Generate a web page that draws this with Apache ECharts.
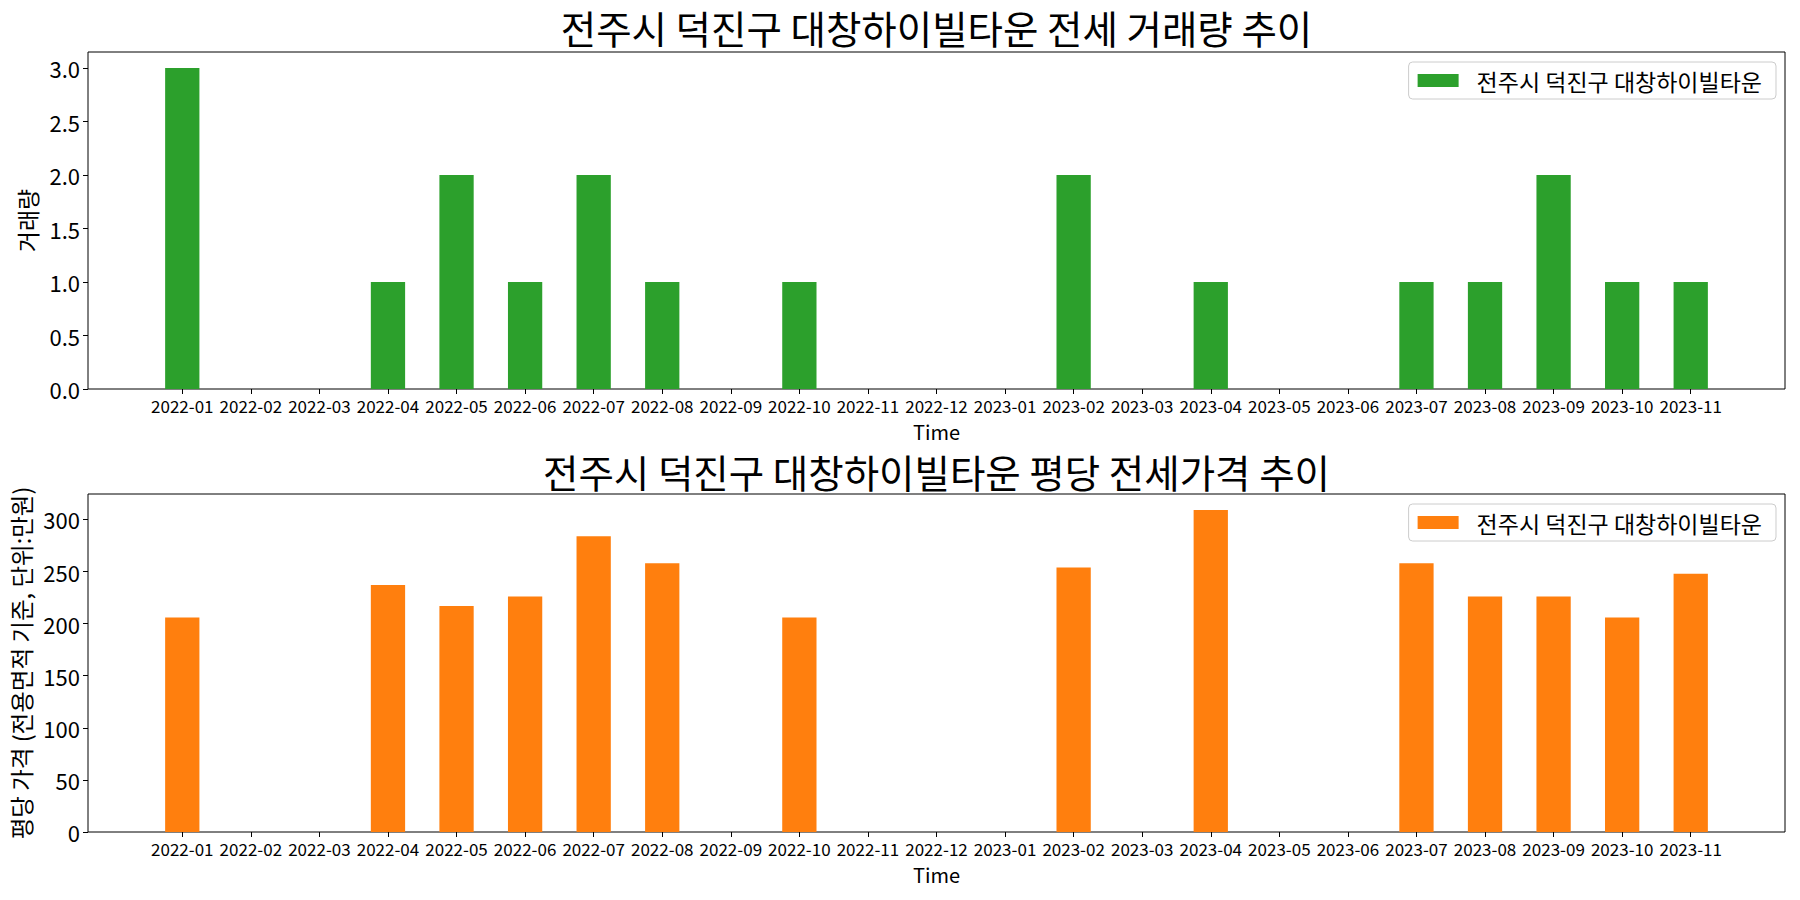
<!DOCTYPE html>
<html><head><meta charset="utf-8">
<script src="https://cdn.jsdelivr.net/npm/echarts@6/dist/echarts.min.js"></script>
<style>html,body{margin:0;padding:0;background:#fff}#c{width:1800px;height:900px}</style>
</head><body><div id="c"></div>
<script>
const months = ['2022-01','2022-02','2022-03','2022-04','2022-05','2022-06','2022-07','2022-08','2022-09','2022-10','2022-11','2022-12','2023-01','2023-02','2023-03','2023-04','2023-05','2023-06','2023-07','2023-08','2023-09','2023-10','2023-11'];
const counts = [3,0,0,1,2,1,2,1,0,1,0,0,0,2,0,1,0,0,1,1,2,1,1];
const prices = [206,null,null,237,217,226,284,258,null,206,null,null,null,254,null,309,null,null,258,226,226,206,248];
const countTicks = [0,0.5,1,1.5,2,2.5,3];
const priceTicks = [0,50,100,150,200,250,300];
const seriesName = '전주시 덕진구 대창하이빌타운';
const title1 = '전주시 덕진구 대창하이빌타운 전세 거래량 추이';
const title2 = '전주시 덕진구 대창하이빌타운 평당 전세가격 추이';
const yName1 = '거래량';
const yName2 = '평당 가격 (전용면적 기준, 단위:만원)';
const xName = 'Time';

const FONT = "'Noto Sans CJK KR', 'Noto Sans', sans-serif";
const W = 1800, H = 900;
const gLeft = 88, gRight = 15;
const grids = [{top: 52, bottom: H - 389}, {top: 494, bottom: H - 832}];
const xMin = -1.375, xMax = months.length - 1 + 1.375;
const gridW = W - gLeft - gRight;
const barW = 0.5 * gridW / (xMax - xMin);
const idx = months.map((_, i) => i);
const maxOf = a => Math.max.apply(null, a.filter(v => v != null));
const GREEN = '#2ca02c', ORANGE = '#ff7f0e';

function xAxis(gi) {
  return {
    type: 'value', gridIndex: gi, min: xMin, max: xMax,
    name: xName, nameLocation: 'middle', nameGap: 32,
    nameTextStyle: {fontFamily: FONT, fontSize: 20, color: '#000'},
    axisLine: {show: false, onZero: false},
    splitLine: {show: false},
    axisTick: {show: true, customValues: idx, length: 5, lineStyle: {color: '#000', width: 1}},
    axisLabel: {customValues: idx, formatter: v => months[Math.round(v)], fontFamily: FONT, fontSize: 17, color: '#000', margin: 8}
  };
}
function yAxis(gi, ticks, max, name, gap, nameSize, dec) {
  return {
    type: 'value', gridIndex: gi, min: 0, max: max,
    name: name, nameLocation: 'middle', nameGap: gap, nameRotate: 90,
    nameTextStyle: {fontFamily: FONT, fontSize: nameSize, color: '#000'},
    axisLine: {show: false, onZero: false},
    splitLine: {show: false},
    axisTick: {show: true, customValues: ticks, length: 5, lineStyle: {color: '#000', width: 1}},
    axisLabel: {customValues: ticks, formatter: v => v.toFixed(dec), fontFamily: FONT, fontSize: 22, color: '#000', margin: 8}
  };
}
function legend(top, color) {
  return {
    data: [{name: seriesName, icon: 'rect', itemStyle: {color: color}}],
    right: 24, top: top, orient: 'vertical',
    itemWidth: 41, itemHeight: 13,
    padding: [7, 14, 7, 9],
    borderColor: '#cccccc', borderWidth: 1, borderRadius: 4, backgroundColor: 'rgba(255,255,255,0.8)',
    textStyle: {fontFamily: FONT, fontSize: 23, color: '#000', padding: [0, 0, 0, 13]}
  };
}

const chart = echarts.init(document.getElementById('c'), null, {renderer: 'svg', width: W, height: H});
chart.setOption({
  backgroundColor: '#fff',
  animation: false,
  grid: grids.map(g => ({left: gLeft, right: gRight, top: g.top, bottom: g.bottom, show: true, borderColor: '#000', borderWidth: 1, containLabel: false})),
  xAxis: [xAxis(0), xAxis(1)],
  yAxis: [
    yAxis(0, countTicks, maxOf(counts) * 1.05, yName1, 44, 23, 1),
    yAxis(1, priceTicks, maxOf(prices) * 1.05, yName2, 53, 23.5, 0)
  ],
  legend: [legend(62, GREEN), legend(504, ORANGE)],
  series: [
    {type: 'bar', name: seriesName, xAxisIndex: 0, yAxisIndex: 0, barWidth: barW, itemStyle: {color: GREEN},
     data: counts.map((v, i) => [i, v])},
    {type: 'bar', name: seriesName, xAxisIndex: 1, yAxisIndex: 1, barWidth: barW, itemStyle: {color: ORANGE},
     data: prices.map((v, i) => [i, v])}
  ],
  graphic: [
    {type: 'text', x: gLeft + gridW / 2, y: 27, style: {text: title1, fontFamily: FONT, fontSize: 38.5, fill: '#000', align: 'center', verticalAlign: 'middle'}},
    {type: 'text', x: gLeft + gridW / 2, y: 471, style: {text: title2, fontFamily: FONT, fontSize: 38.5, fill: '#000', align: 'center', verticalAlign: 'middle'}}
  ]
});
</script></body></html>
